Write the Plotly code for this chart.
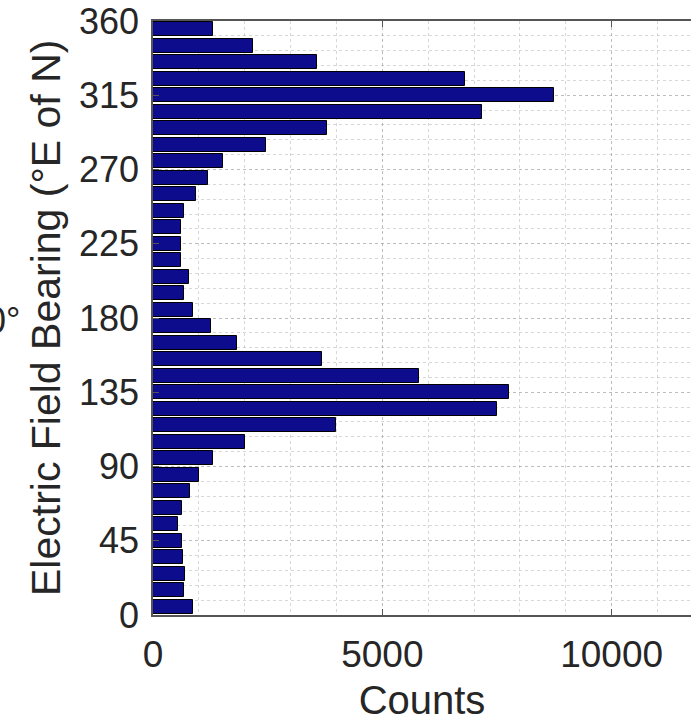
import plotly.graph_objects as go

bin_centers = [5, 15, 25, 35, 45, 55, 65, 75, 85, 95, 105, 115, 125, 135, 145, 155, 165, 175,
               185, 195, 205, 215, 225, 235, 245, 255, 265, 275, 285, 295, 305, 315, 325, 335, 345, 355]
counts = [872, 669, 691, 654, 632, 552, 626, 807, 1003, 1315, 2006, 3990, 7494, 7763, 5807, 3685, 1832, 1258,
          866, 676, 792, 604, 604, 604, 676, 938, 1206, 1520, 2464, 3794, 7181, 8744, 6803, 3570, 2188, 1308]
y_ticks = [0, 45, 90, 135, 180, 225, 270, 315, 360]
x_ticks = [0, 5000, 10000]
x_ticktext = ["0", "5000", "10000"]

FONT = "Liberation Sans, Arial, Helvetica, sans-serif"
TXT = "#262626"
GRID = "rgba(140,140,140,0.35)"

fig = go.Figure(go.Bar(
    x=counts, y=bin_centers, orientation="h", width=8.2,
    marker=dict(color="#0c0c8c", line=dict(color="black", width=1)),
))

fig.update_layout(
    width=691, height=725,
    margin=dict(l=153, r=0, t=21, b=110),
    plot_bgcolor="white", paper_bgcolor="white",
    font=dict(family=FONT, color=TXT, size=36),
    showlegend=False,
    bargap=0,
    xaxis=dict(
        range=[0, 11731], tickvals=x_ticks, ticktext=x_ticktext, ticks="inside", ticklen=6, tickcolor="#555",
        showline=True, linecolor="#555", linewidth=1.5, mirror="ticks",
        showgrid=True, gridcolor=GRID, griddash="dot", gridwidth=1,
        minor=dict(dtick=1000, showgrid=True, gridcolor=GRID, griddash="dot", gridwidth=1),
        tickfont=dict(size=37, color=TXT), ticklabelstandoff=6,
        title=dict(text="Counts", font=dict(size=40, color=TXT), standoff=12),
        zeroline=False,
    ),
    yaxis=dict(
        range=[0, 360], tickvals=y_ticks, ticks="inside", ticklen=6, tickcolor="#555",
        showline=True, linecolor="#555", linewidth=1.5, mirror=False,
        showgrid=True, gridcolor=GRID, griddash="dot", gridwidth=1,
        minor=dict(dtick=9, showgrid=True, gridcolor=GRID, griddash="dot", gridwidth=1),
        tickfont=dict(size=36, color=TXT), ticklabelstandoff=5,
        zeroline=False,
    ),
    annotations=[
        dict(
            text="Electric Field Bearing (°E of N)", xref="paper", yref="paper",
            x=(46 - 153) / 538, y=0.5, xanchor="center", yanchor="middle",
            textangle=-90, showarrow=False, font=dict(size=41, color=TXT, family=FONT),
        ),
        dict(
            text="0°", xref="paper", yref="paper", x=(22 - 153) / 538, y=(615 - 320) / 594,
            xanchor="right", yanchor="middle", showarrow=False,
            font=dict(size=36, color=TXT, family=FONT),
        ),
    ],
)

fig.write_html("out.html")
